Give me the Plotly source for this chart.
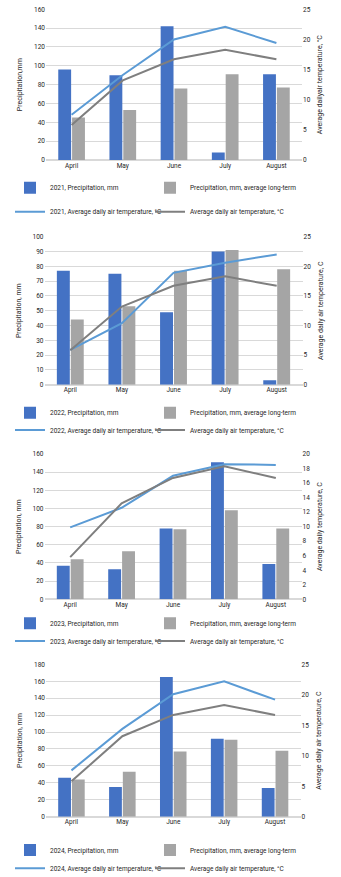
import plotly.graph_objects as go

months = ["April", "May", "June", "July", "August"]

years = ["2021", "2022", "2023", "2024"]
precip_2021 = [96, 90, 142, 8, 91]
precip_2022 = [77, 75, 49, 90, 3]
precip_2023 = [37, 33, 78, 151, 39]
precip_2024 = [46, 35, 165, 92, 34]

longterm_2021 = [45, 53, 76, 91, 77]
longterm_2022 = [44, 53, 77, 91, 78]
longterm_2023 = [44, 53, 77, 98, 78]
longterm_2024 = [44, 53, 77, 91, 78]

temp_2021 = [7.5, 14.1, 20.0, 22.1, 19.4]
temp_2022 = [5.9, 10.4, 18.9, 20.6, 22.0]
temp_2023 = [9.9, 12.6, 17.0, 18.6, 18.5]
temp_2024 = [7.6, 14.4, 20.1, 22.2, 19.2]
temp_longterm = [5.8, 13.2, 16.7, 18.3, 16.7]

left_titles = ["Precipitation,mm", "Precipitation, mm", "Precipitation, mm", "Precipitation, mm"]
right_titles = ["Average dailyair temperature, °C", "Average daily air temperature, C",
                "Average daily temperature, C", "Average daily air temperature, C"]
left_ranges = [(160, 20), (100, 10), (160, 20), (180, 20)]
right_ranges = [(25, 5), (25, 5), (20, 2), (25, 5)]

precip = [precip_2021, precip_2022, precip_2023, precip_2024]
longterm = [longterm_2021, longterm_2022, longterm_2023, longterm_2024]
temps = [temp_2021, temp_2022, temp_2023, temp_2024]

W, H = 341, 877
# plot-area pixel boxes (left, right, top, bottom)
boxes = [(46, 302, 9.3, 160), (44.5, 302.5, 236.7, 384.7), (44.5, 301.5, 454, 599.3), (46, 300.5, 664.3, 816.7)]
legend_rows = [(187.7, 211.7), (412.7, 430), (623.3, 641), (850, 868.3)]
legend_cols = [10, 150]

BLUE = "#4472C4"
GREY = "#A5A5A5"
LBLUE = "#5B9BD5"
DGREY = "#7F7F7F"
FONT = "Roboto, Arial, sans-serif"
TXT = "#262626"

fig = go.Figure()
layout = dict(
    width=W, height=H,
    margin=dict(l=0, r=0, t=0, b=0, autoexpand=False),
    paper_bgcolor="white", plot_bgcolor="white",
    barmode="group", bargap=0.46, bargroupgap=0.07,
    font=dict(family=FONT, size=6.5, color=TXT),
    showlegend=True,
)

for i in range(4):
    xa = "x" if i == 0 else f"x{i+1}"
    yl = f"y{2*i+1}" if i > 0 else "y"
    yr = f"y{2*i+2}"
    lgs = ["legend" if (4 * i + k) == 0 else f"legend{4*i+k+1}" for k in range(4)]
    yr_ = years[i]
    fig.add_trace(go.Bar(x=months, y=precip[i], name=f"{yr_}, Precipitation, mm", showlegend=True,
                         marker=dict(color=BLUE, line=dict(width=0)), xaxis=xa, yaxis=yl, legend=lgs[0]))
    fig.add_trace(go.Bar(x=months, y=longterm[i], name="Precipitation, mm, average long-term", showlegend=True,
                         marker=dict(color=GREY, line=dict(width=0)), xaxis=xa, yaxis=yl, legend=lgs[1]))
    fig.add_trace(go.Scatter(x=months, y=temps[i], mode="lines", showlegend=True,
                             name=f"{yr_}, Average daily air temperature, °C",
                             line=dict(color=LBLUE, width=2), xaxis=xa, yaxis=yr, legend=lgs[2]))
    fig.add_trace(go.Scatter(x=months, y=temp_longterm, mode="lines", showlegend=True,
                             name="Average daily air temperature, °C",
                             line=dict(color=DGREY, width=2), xaxis=xa, yaxis=yr, legend=lgs[3]))

    l, r, t, b = boxes[i]
    xdom = [l / W, r / W]
    ydom = [1 - b / H, 1 - t / H]
    xkey = "xaxis" if i == 0 else f"xaxis{i+1}"
    ylkey = "yaxis" if i == 0 else f"yaxis{2*i+1}"
    yrkey = f"yaxis{2*i+2}"
    layout[xkey] = dict(domain=xdom, anchor=yl, showgrid=False, showline=False, ticks="",
                        tickfont=dict(size=6.5, color=TXT, family=FONT), fixedrange=True)
    lmax, ldt = left_ranges[i]
    rmax, rdt = right_ranges[i]
    layout[ylkey] = dict(domain=ydom, anchor=xa, range=[0, lmax], dtick=ldt, tick0=0,
                         showgrid=True, gridcolor="#D9D9D9", gridwidth=1, zeroline=True,
                         zerolinecolor="#D9D9D9", showline=False, ticks="",
                         tickfont=dict(size=6.5, color=TXT, family=FONT),
                         title=dict(text=left_titles[i], font=dict(size=7, color=TXT, family=FONT), standoff=10))
    layout[yrkey] = dict(overlaying=yl, side="right", anchor=xa, range=[0, rmax], dtick=rdt, tick0=0,
                         showgrid=False, zeroline=False, showline=False, ticks="",
                         tickfont=dict(size=6.5, color=TXT, family=FONT),
                         title=dict(text=right_titles[i], font=dict(size=7, color=TXT, family=FONT), standoff=7))
    y1, y2 = legend_rows[i]
    for k, key in enumerate(lgs):
        yy = y1 if k < 2 else y2
        xx = legend_cols[k % 2]
        layout[key] = dict(orientation="h", x=xx / W, xanchor="left", y=1 - yy / H, yanchor="middle",
                           bgcolor="rgba(0,0,0,0)", visible=True,
                           font=dict(size=6.5, color=TXT, family=FONT), itemwidth=30)

fig.update_layout(**layout)
fig.write_html("out.html")
